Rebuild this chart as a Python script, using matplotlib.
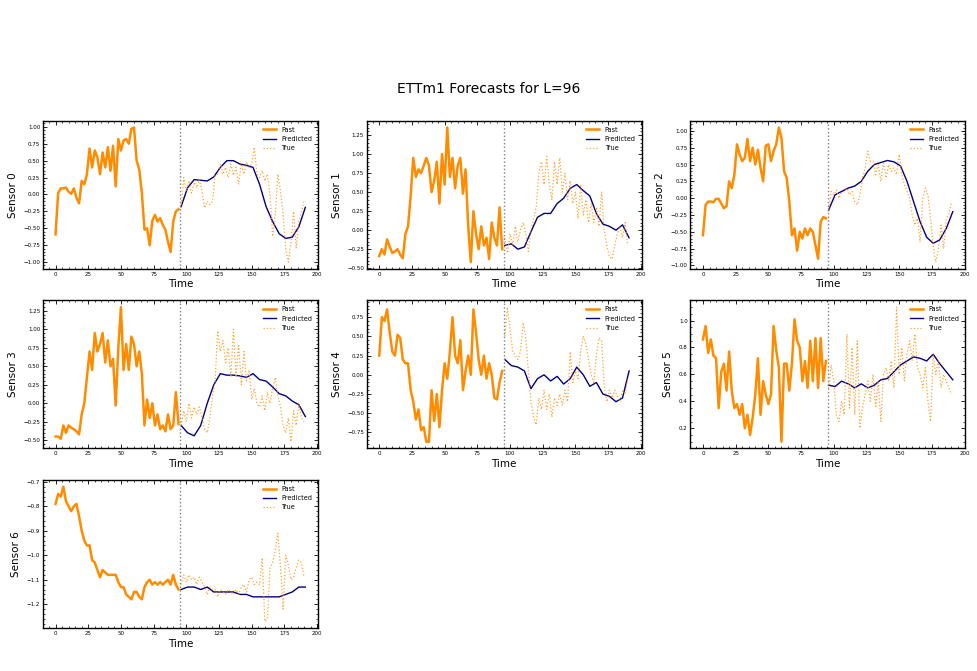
import matplotlib
matplotlib.use("Agg")
import matplotlib.pyplot as plt
import numpy as np
from matplotlib.ticker import AutoMinorLocator

# time axes
x_past = np.arange(0, 96, 2)
x_true = np.arange(96, 192, 2)
x_pred = np.arange(96, 192, 5)

# sensor 0
past_0 = [-0.59, 0.02, 0.09, 0.09, 0.10, 0.04, 0.01, 0.09, -0.05, -0.13, 0.20, 0.15,
          0.30, 0.68, 0.40, 0.65, 0.55, 0.30, 0.62, 0.40, 0.70, 0.35, 0.72, 0.12,
          0.82, 0.65, 0.80, 0.82, 0.75, 0.97, 0.99, 0.50, 0.37, 0.02, -0.52, -0.50,
          -0.75, -0.39, -0.30, -0.40, -0.35, -0.45, -0.52, -0.70, -0.85, -0.40, -0.25, -0.22]
true_0 = [-0.20, 0.25, 0.05, 0.20, 0.02, 0.18, 0.10, 0.22, 0.05, -0.20, -0.10, -0.15,
          -0.10, 0.28, 0.30, 0.45, 0.30, 0.40, 0.25, 0.45, 0.28, 0.40, 0.15, 0.45,
          0.30, 0.48, 0.40, 0.45, 0.70, 0.30, 0.25, 0.35, 0.20, 0.30, 0.00, -0.62,
          -0.30, 0.30, 0.05, -0.30, -0.80, -1.00, -0.70, -0.25, -0.80, -0.40, -0.25, -0.10]
pred_0 = [-0.18, 0.10, 0.22, 0.21, 0.20, 0.26, 0.40, 0.50, 0.50, 0.45,
          0.43, 0.40, 0.15, -0.18, -0.40, -0.58, -0.65, -0.63, -0.48, -0.19]

# sensor 1
past_1 = [-0.34, -0.25, -0.32, -0.12, -0.22, -0.30, -0.28, -0.25, -0.32, -0.37, -0.05, 0.05,
          0.45, 0.95, 0.70, 0.80, 0.75, 0.85, 0.95, 0.85, 0.50, 0.65, 0.90, 0.35,
          1.00, 0.60, 1.35, 0.70, 0.95, 0.55, 0.85, 0.95, 0.48, 0.80, 0.05, -0.42,
          0.25, -0.05, -0.25, 0.05, -0.20, -0.10, -0.38, 0.10, -0.10, -0.20, 0.30, -0.25]
true_1 = [-0.10, -0.30, -0.05, -0.20, 0.05, -0.15, 0.00, 0.10, -0.05, -0.28, 0.00, 0.15,
          0.30, 0.75, 0.90, 0.60, 0.97, 0.60, 0.40, 0.90, 0.60, 0.95, 0.50, 0.75,
          0.40, 0.65, 0.35, 0.50, 0.15, 0.60, 0.20, 0.40, 0.10, 0.35, 0.10, 0.30,
          0.05, 0.50, 0.00, -0.20, -0.35, -0.38, -0.20, -0.05, 0.05, -0.10, 0.10, -0.20]
pred_1 = [-0.20, -0.18, -0.25, -0.22, -0.02, 0.17, 0.22, 0.22, 0.35, 0.42,
          0.55, 0.60, 0.52, 0.45, 0.22, 0.08, 0.05, 0.00, 0.07, -0.10]

# sensor 2
past_2 = [-0.55, -0.10, -0.05, -0.05, -0.06, -0.01, -0.01, -0.08, -0.15, -0.12, 0.25, 0.15,
          0.35, 0.80, 0.65, 0.55, 0.60, 0.88, 0.55, 0.75, 0.50, 0.72, 0.45, 0.25,
          0.78, 0.80, 0.55, 0.70, 0.80, 1.05, 0.90, 0.40, 0.30, -0.05, -0.55, -0.45,
          -0.78, -0.50, -0.60, -0.45, -0.55, -0.45, -0.50, -0.70, -0.90, -0.35, -0.28, -0.30]
true_2 = [-0.20, 0.10, 0.05, 0.12, 0.00, 0.08, 0.10, 0.15, 0.05, 0.10, -0.05, -0.10,
          0.05, 0.30, 0.45, 0.70, 0.55, 0.55, 0.35, 0.50, 0.25, 0.55, 0.30, 0.50,
          0.40, 0.45, 0.35, 0.65, 0.35, 0.20, 0.10, 0.00, -0.25, -0.40, -0.30, -0.65,
          0.00, 0.15, 0.05, -0.30, -0.70, -0.95, -0.75, -0.40, -0.75, -0.30, -0.25, -0.05]
pred_2 = [-0.18, 0.05, 0.10, 0.15, 0.18, 0.25, 0.40, 0.50, 0.53, 0.56,
          0.54, 0.48, 0.25, -0.05, -0.35, -0.58, -0.67, -0.62, -0.45, -0.20]

# sensor 3
past_3 = [-0.45, -0.45, -0.48, -0.30, -0.40, -0.30, -0.33, -0.35, -0.38, -0.42, -0.15, 0.00,
          0.35, 0.70, 0.45, 0.95, 0.70, 0.80, 0.95, 0.55, 0.85, 0.50, 0.60, -0.03,
          0.75, 1.30, 0.45, 0.80, 0.45, 0.90, 0.80, 0.50, 0.70, 0.40, -0.30, 0.05,
          -0.20, 0.00, -0.30, -0.15, -0.35, -0.30, -0.38, -0.15, -0.35, -0.30, 0.15, -0.28]
true_3 = [-0.30, -0.10, -0.25, 0.00, -0.20, -0.05, -0.15, -0.05, -0.20, -0.35, -0.40, -0.20,
          0.10, 0.30, 0.98, 0.70, 0.85, 0.55, 0.75, 0.35, 1.00, 0.35, 0.80, 0.25,
          0.70, 0.30, 0.45, 0.05, 0.20, 0.00, -0.05, 0.10, -0.10, 0.15, 0.00, 0.20,
          0.35, 0.10, -0.05, -0.30, -0.40, -0.20, -0.52, -0.10, -0.30, 0.00, -0.20, -0.25]
pred_3 = [-0.30, -0.40, -0.44, -0.30, 0.00, 0.25, 0.40, 0.38, 0.38, 0.37,
          0.35, 0.40, 0.32, 0.30, 0.22, 0.13, 0.10, 0.03, -0.02, -0.18]

# sensor 4
past_4 = [0.25, 0.75, 0.70, 0.85, 0.55, 0.30, 0.25, 0.52, 0.48, 0.20, 0.15, 0.15,
          -0.20, -0.35, -0.58, -0.45, -0.72, -0.68, -0.87, -0.87, -0.20, -0.60, -0.25, -0.68,
          -0.20, 0.15, -0.05, 0.30, 0.75, 0.25, 0.15, 0.45, -0.20, 0.05, 0.25, 0.00,
          0.85, 0.55, 0.20, 0.00, 0.25, -0.05, 0.15, 0.00, -0.30, -0.32, -0.10, 0.05]
true_4 = [0.50, 0.88, 0.60, 0.30, 0.25, 0.20, 0.30, 0.68, 0.50, 0.05, -0.35, -0.55,
          -0.65, -0.30, -0.45, -0.20, -0.45, -0.25, -0.55, -0.30, -0.40, -0.25, -0.40, -0.20,
          -0.35, 0.30, -0.10, 0.05, -0.05, 0.30, 0.50, 0.40, 0.20, 0.00, -0.10, 0.25,
          0.48, 0.45, -0.15, -0.35, -0.20, -0.30, -0.20, -0.28, -0.35, -0.20, -0.25, -0.05]
pred_4 = [0.20, 0.12, 0.10, 0.05, -0.18, -0.05, 0.00, -0.08, -0.02, -0.12,
          -0.05, 0.10, 0.00, -0.15, -0.10, -0.25, -0.28, -0.35, -0.30, 0.05]

# sensor 5
past_5 = [0.86, 0.96, 0.76, 0.86, 0.74, 0.72, 0.35, 0.62, 0.68, 0.48, 0.77, 0.48,
          0.35, 0.38, 0.30, 0.38, 0.20, 0.30, 0.15, 0.28, 0.45, 0.72, 0.30, 0.55,
          0.45, 0.38, 0.45, 0.96, 0.78, 0.65, 0.10, 0.68, 0.68, 0.48, 0.68, 1.01,
          0.85, 0.80, 0.55, 0.70, 0.50, 0.85, 0.55, 0.87, 0.50, 0.87, 0.55, 0.70]
true_5 = [0.50, 0.67, 0.55, 0.30, 0.25, 0.40, 0.30, 0.90, 0.35, 0.80, 0.30, 0.85,
          0.20, 0.35, 0.45, 0.55, 0.40, 0.60, 0.35, 0.55, 0.25, 0.60, 0.65, 0.55,
          0.70, 0.50, 1.10, 0.60, 0.80, 0.55, 0.75, 0.85, 0.70, 0.90, 0.65, 0.60,
          0.50, 0.65, 0.40, 0.25, 0.75, 0.60, 0.70, 0.50, 0.60, 0.55, 0.50, 0.45]
pred_5 = [0.52, 0.51, 0.55, 0.53, 0.50, 0.53, 0.50, 0.52, 0.56, 0.57,
          0.62, 0.67, 0.70, 0.73, 0.72, 0.70, 0.75, 0.68, 0.62, 0.56]

# sensor 6
past_6 = [-0.79, -0.75, -0.76, -0.72, -0.78, -0.80, -0.82, -0.80, -0.79, -0.84, -0.90, -0.94,
          -0.96, -0.96, -1.02, -1.03, -1.06, -1.09, -1.06, -1.07, -1.08, -1.08, -1.08, -1.08,
          -1.11, -1.13, -1.13, -1.16, -1.17, -1.18, -1.15, -1.15, -1.17, -1.18, -1.13, -1.11,
          -1.10, -1.12, -1.11, -1.12, -1.11, -1.12, -1.11, -1.10, -1.12, -1.08, -1.12, -1.14]
true_6 = [-1.12, -1.08, -1.11, -1.08, -1.10, -1.09, -1.12, -1.09, -1.11, -1.13, -1.16, -1.13,
          -1.14, -1.14, -1.17, -1.14, -1.15, -1.16, -1.14, -1.15, -1.16, -1.14, -1.16, -1.13,
          -1.12, -1.15, -1.10, -1.09, -1.12, -1.11, -1.12, -1.01, -1.27, -1.26, -1.05, -1.03,
          -0.98, -0.91, -1.05, -1.22, -1.00, -1.04, -1.10, -1.09, -1.05, -1.02, -1.03, -1.09]
pred_6 = [-1.14, -1.13, -1.13, -1.14, -1.13, -1.15, -1.15, -1.15, -1.15, -1.16,
          -1.16, -1.17, -1.17, -1.17, -1.17, -1.17, -1.16, -1.15, -1.13, -1.13]

past_all = [past_0, past_1, past_2, past_3, past_4, past_5, past_6]
true_all = [true_0, true_1, true_2, true_3, true_4, true_5, true_6]
pred_all = [pred_0, pred_1, pred_2, pred_3, pred_4, pred_5, pred_6]

fig, axes = plt.subplots(3, 3, figsize=(9.78, 6.71), dpi=100)
fig.subplots_adjust(left=0.044, right=0.987, top=0.820, bottom=0.064,
                    wspace=0.178, hspace=0.213)

for i, ax in enumerate(axes.flat):
    if i >= len(past_all):
        ax.remove()
        continue
    ax.plot(x_past, past_all[i], color='darkorange', lw=1.8, label='Past')
    ax.plot(x_pred, pred_all[i], color='navy', lw=1.0, label='Predicted')
    ax.plot(x_true, true_all[i], color='darkorange', lw=0.9, linestyle=':',
            alpha=0.8, label='True')
    ax.axvline(95.5, color='grey', linestyle=':', lw=1.0)

    ax.set_xlabel('Time', fontsize=7.5, labelpad=2)
    ax.set_ylabel(f'Sensor {i}', fontsize=7.5, labelpad=4)
    ax.xaxis.set_minor_locator(AutoMinorLocator())
    ax.yaxis.set_minor_locator(AutoMinorLocator())
    ax.tick_params(which='both', direction='in', top=True, right=True,
                   labelsize=4, pad=2)
    ax.tick_params(which='major', length=3, width=0.6)
    ax.tick_params(which='minor', length=1.5, width=0.5)
    for s in ax.spines.values():
        s.set_linewidth(1.0)
    ax.legend(loc='upper right', fontsize=4.7, frameon=False)

fig.suptitle('ETTm1 Forecasts for L=96', fontsize=10, y=0.878)

plt.savefig('out.png', dpi=100)
